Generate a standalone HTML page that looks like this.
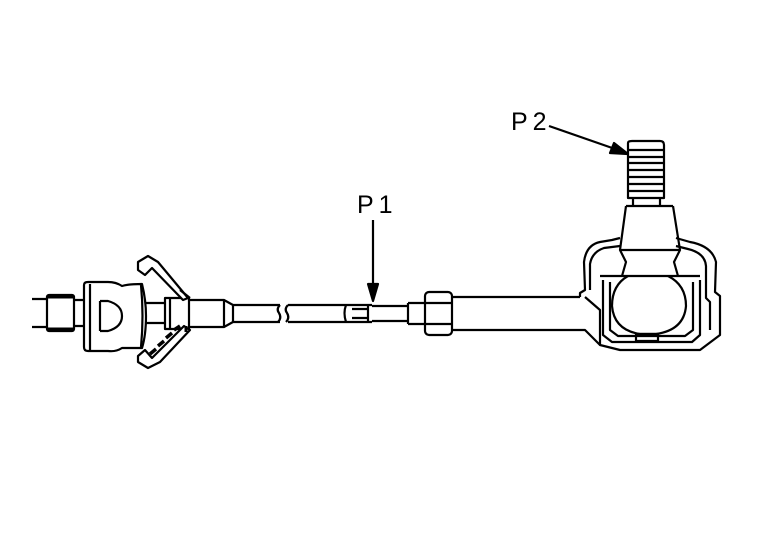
<!DOCTYPE html>
<html><head><style>
html,body{margin:0;padding:0;background:#fff;width:768px;height:544px;overflow:hidden}
svg{display:block}
text{font-family:"Liberation Sans",sans-serif;font-size:25px;font-weight:normal;fill:#000;stroke:none;letter-spacing:5px}
</style></head><body>
<svg width="768" height="544" viewBox="0 0 768 544" fill="none" stroke="#000" stroke-width="2.2" stroke-linejoin="round">
<rect width="768" height="544" fill="#fff" stroke="none"/>
<path d="M32 299H47M32 327H47"/>
<rect x="47" y="295" width="27" height="36" rx="2"/>
<path d="M48 297H73M48 329H73" stroke-width="3"/>
<path d="M74 300H84M74 326H84"/>
<path d="M84 285 Q84 282 88 282 H108 Q116 282 122 286 Q128 284 142 284 Q146 300 146 316 Q146 335 142 348 H122 Q116 352 108 351 H88 Q84 351 84 347 Z"/>
<path d="M90 284V350M100 301V331"/>
<path d="M100 301 H108 Q122 305 122 316 Q122 327 108 331 H100"/>
<path d="M141 285 Q144 316 141 347"/>
<path d="M146 303H166M146 323H166"/>
<rect x="165" y="298" width="24" height="31"/>
<path d="M170 298V329"/>
<path d="M138 262 L148 256 L158 262 L188 298 L183 300 L152 268 L145 275 L138 270 Z" fill="#fff"/>
<path d="M180 290 L190 298"/>
<path d="M138 362 L148 368 L160 362 L190 330 L184 326 L152 358 L145 350 L138 356 Z" fill="#fff"/>
<path d="M150 354 L156 349 M158 346 L164 341 M166 338 L172 333 M174 330 L180 326" stroke-width="3.5"/>
<path d="M186 326 V332" stroke-width="3"/>
<path d="M189 300H224L233 305H280M189 327H224L233 322H280M224 300V327M233 305V322"/>
<path d="M280 305 Q276 309 279 313 Q282 318 278 322M288 305 Q284 309 287 313 Q290 318 286 322"/>
<path d="M288 305H372M288 322H372"/>
<path d="M346 305 Q343 313 346 322M352 309H368M352 318H368M368 305V322"/>
<path d="M372 306H408M372 321H408M408 303H425M408 324H425M408 303V324"/>
<rect x="425" y="292" width="27" height="43" rx="4"/>
<path d="M425 303H452M425 324H452"/>
<path d="M452 297H580M452 330H585L600 345"/>
<path d="M580 297 V293 L585 290 L584 262 Q586 245 600 242 L612 240 L620 238"/>
<path d="M590 290 L590 264 Q592 252 604 248 L620 246"/>
<path d="M676 238 L690 242 Q712 246 716 262 L715 292 L720 296 V335 L700 350 H620 L600 345 V310 L585 297"/>
<path d="M676 246 L688 249 Q705 253 706 266 L706 298 L710 302 V330"/>
<path d="M600 276 H700 M603 280 V335 L612 342 H692 L700 335 V280"/>
<path d="M610 282 V330 L618 336 H685 L693 330 V282"/>
<path d="M628 276 Q612 285 612 306 Q614 330 640 334 H656 Q684 330 686 306 Q686 285 668 276"/>
<rect x="636" y="334" width="22" height="7"/>
<path d="M628 143 Q628 141 632 141 H660 Q664 141 664 145 V198 H628 Z"/>
<path d="M628 150H664M628 157H664M628 163H664M628 170H664M628 177H664M628 184H664M628 191H664"/>
<path d="M633 198 V206 M660 198 V206 M626 206 H673"/>
<path d="M626 206 L620 250 L626 262 L622 276 M673 206 L680 250 L674 262 L678 276"/>
<path d="M620 250 H680"/>
<text x="511" y="130">P2</text>
<path d="M549 126 L618 150"/>
<path d="M628 154 L610 153 L614 143 Z" fill="#000"/>
<text x="357" y="213">P1</text>
<path d="M373 220 V288"/>
<path d="M373 301 L368 284 H378 Z" fill="#000"/>
</svg>
</body></html>
